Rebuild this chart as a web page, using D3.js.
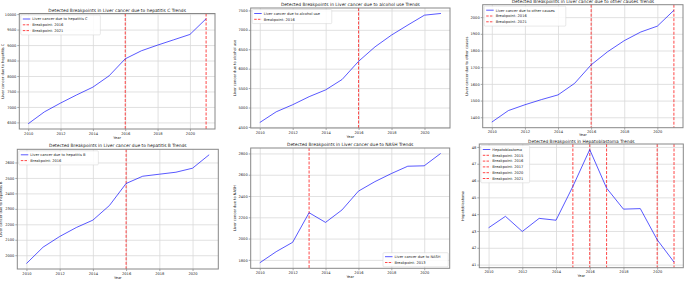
<!DOCTYPE html>
<html>
<head>
<meta charset="utf-8">
<script src="https://cdn.jsdelivr.net/npm/d3@7"></script>
<style>
  body { margin: 0; background: #fff; }
  text { font-family: "DejaVu Sans", sans-serif; fill: #222; }
</style>
</head>
<body>
<svg id="chart" width="685" height="281"></svg>
<script>
// Data
const years = [2010, 2011, 2012, 2013, 2014, 2015, 2016, 2017, 2018, 2019, 2020, 2021];
const yearTicks = [2010, 2012, 2014, 2016, 2018, 2020];

const hepCValues = [6457, 6840, 7125, 7390, 7640, 8005, 8555, 8815, 8998, 9170, 9343, 9850];
const alcoholValues = [4613, 4890, 5072, 5280, 5454, 5722, 6190, 6563, 6866, 7126, 7378, 7422];
const otherValues = [1371, 1440, 1475, 1506, 1534, 1603, 1714, 1793, 1859, 1911, 1946, 2041];
const hepBValues = [1946, 2052, 2121, 2179, 2227, 2322, 2464, 2511, 2524, 2537, 2563, 2650];
const nashValues = [1772, 1877, 1965, 2243, 2152, 2269, 2446, 2535, 2611, 2680, 2684, 2800];
const hepatoblastomaValues = [43.19, 43.87, 42.97, 43.75, 43.64, 45.65, 47.84, 45.55, 44.30, 44.33, 42.48, 41.15];

const hepCBreaks = [2016, 2021];
const alcoholBreaks = [2016];
const otherBreaks = [2016, 2021];
const hepBBreaks = [2016];
const nashBreaks = [2013];
const hepatoblastomaBreaks = [2015, 2016, 2017, 2020, 2021];

const hepCTicks = [6500, 7000, 7500, 8000, 8500, 9000, 9500, 10000];
const alcoholTicks = [4500, 5000, 5500, 6000, 6500, 7000, 7500];
const otherTicks = [1400, 1500, 1600, 1700, 1800, 1900, 2000];
const hepBTicks = [2000, 2100, 2200, 2300, 2400, 2500, 2600];
const nashTicks = [1800, 2000, 2200, 2400, 2600, 2800];
const hepatoblastomaTicks = [41, 42, 43, 44, 45, 46, 47, 48];

const panels = [
    { name: "Liver cancer due to hepatitis C", values: hepCValues, breaks: hepCBreaks, ticks: hepCTicks,
      box: [19.3, 13.5, 215, 129], legend: "tl", titleGap: 2, xlabGap: 9.5 },
    { name: "Liver cancer due to alcohol use", values: alcoholValues, breaks: alcoholBreaks, ticks: alcoholTicks,
      box: [250.7, 8, 450, 128], legend: "tl", titleGap: 2, xlabGap: 9.5 },
    { name: "Liver cancer due to other causes", values: otherValues, breaks: otherBreaks, ticks: otherTicks,
      box: [482.7, 4.7, 683, 127.7], legend: "tl", titleGap: 1.5, xlabGap: 8.3 },
    { name: "Liver cancer due to hepatitis B", values: hepBValues, breaks: hepBBreaks, ticks: hepBTicks,
      box: [17.3, 149.3, 218.3, 269], legend: "tl", titleGap: 2, xlabGap: 9.5 },
    { name: "Liver cancer due to NASH", values: nashValues, breaks: nashBreaks, ticks: nashTicks,
      box: [250.7, 148, 449.7, 268.3], legend: "br", titleGap: 2, xlabGap: 9.5 },
    { name: "Hepatoblastoma", values: hepatoblastomaValues, breaks: hepatoblastomaBreaks, ticks: hepatoblastomaTicks,
      box: [479.3, 144, 683.3, 267.7], legend: "tl", titleGap: 1.2, xlabGap: 9.5 }
];

const svg = d3.select("#chart");

panels.forEach(drawPanel);

function drawPanel(p)
{
    const [x0, y0, x1, y1] = p.box;
    const g = svg.append("g");

    // matplotlib style 5% margins
    const xPad = (d3.max(years) - d3.min(years)) * 0.05;
    const xScale = d3.scaleLinear()
        .domain([d3.min(years) - xPad, d3.max(years) + xPad])
        .range([x0, x1]);

    const yMin = d3.min(p.values), yMax = d3.max(p.values);
    const yPad = (yMax - yMin) * 0.05;
    const yScale = d3.scaleLinear()
        .domain([yMin - yPad, yMax + yPad])
        .range([y1, y0]);

    // grid
    g.append("g")
        .attr("transform", `translate(0, ${y1})`)
        .call(d3.axisBottom(xScale).tickValues(yearTicks).tickSize(-(y1 - y0)).tickFormat(d3.format("d")).tickPadding(3))
        .call(ax => ax.select(".domain").remove())
        .call(ax => ax.selectAll("line").attr("stroke", "#d9d9d9").attr("stroke-width", 0.8))
        .call(ax => ax.selectAll("text").attr("font-size", 3.6).attr("fill", "#333"));

    g.append("g")
        .attr("transform", `translate(${x0}, 0)`)
        .call(d3.axisLeft(yScale).tickValues(p.ticks).tickSize(-(x1 - x0)).tickFormat(d3.format("d")).tickPadding(3))
        .call(ax => ax.select(".domain").remove())
        .call(ax => ax.selectAll("line").attr("stroke", "#d9d9d9").attr("stroke-width", 0.8))
        .call(ax => ax.selectAll("text").attr("font-size", 3.6).attr("fill", "#333"));

    // small outer tick marks
    g.append("g")
        .attr("transform", `translate(0, ${y1})`)
        .call(d3.axisBottom(xScale).tickValues(yearTicks).tickSize(2).tickFormat(""))
        .call(ax => ax.select(".domain").remove())
        .call(ax => ax.selectAll("line").attr("stroke", "#555").attr("stroke-width", 0.5));
    g.append("g")
        .attr("transform", `translate(${x0}, 0)`)
        .call(d3.axisLeft(yScale).tickValues(p.ticks).tickSize(2).tickFormat(""))
        .call(ax => ax.select(".domain").remove())
        .call(ax => ax.selectAll("line").attr("stroke", "#555").attr("stroke-width", 0.5));

    // breakpoints
    g.selectAll(".bp")
        .data(p.breaks)
        .join("line")
        .attr("x1", d => xScale(d)).attr("x2", d => xScale(d))
        .attr("y1", y0).attr("y2", y1)
        .attr("stroke", "red")
        .attr("stroke-width", 0.9)
        .attr("stroke-dasharray", "3,1.5")
        .attr("opacity", 0.8);

    // series line
    g.append("path")
        .datum(p.values)
        .attr("fill", "none")
        .attr("stroke", "blue")
        .attr("stroke-opacity", 0.65)
        .attr("stroke-width", 1)
        .attr("d", d3.line().x((d, i) => xScale(years[i])).y(d => yScale(d)));

    // frame
    g.append("rect")
        .attr("x", x0).attr("y", y0)
        .attr("width", x1 - x0).attr("height", y1 - y0)
        .attr("fill", "none")
        .attr("stroke", "#888")
        .attr("stroke-width", 1);

    // labels
    g.append("text")
        .attr("x", (x0 + x1) / 2).attr("y", y0 - p.titleGap)
        .attr("text-anchor", "middle")
        .attr("font-size", 4.4)
        .text(`Detected Breakpoints in ${p.name} Trends`);

    g.append("text")
        .attr("x", (x0 + x1) / 2).attr("y", y1 + p.xlabGap)
        .attr("text-anchor", "middle")
        .attr("font-size", 3.6)
        .text("Year");

    g.append("text")
        .attr("transform", `translate(${x0 - 15}, ${(y0 + y1) / 2}) rotate(-90)`)
        .attr("text-anchor", "middle")
        .attr("font-size", 3.6)
        .text(p.name);

    // legend
    const entries = [{ label: p.name, type: "series" }]
        .concat(p.breaks.map(b => ({ label: `Breakpoint: ${b}`, type: "break" })));
    const rowH = 5.8;
    const legW = d3.max(entries, e => e.label.length) * 2.05 + 16;
    const legH = entries.length * rowH + 2.5;
    const lx = p.legend === "tl" ? x0 + 1.5 : x1 - 1.5 - legW;
    const ly = p.legend === "tl" ? y0 + 1.5 : y1 - 1.5 - legH;

    const leg = g.append("g").attr("transform", `translate(${lx}, ${ly})`);
    leg.append("rect")
        .attr("width", legW).attr("height", legH)
        .attr("rx", 1)
        .attr("fill", "white").attr("fill-opacity", 0.85)
        .attr("stroke", "#d0d0d0").attr("stroke-width", 0.5);

    const rows = leg.selectAll(".row")
        .data(entries)
        .join("g")
        .attr("transform", (d, i) => `translate(0, ${4 + i * rowH})`);

    rows.append("line")
        .attr("x1", 2).attr("x2", 9.5)
        .attr("stroke", d => d.type === "series" ? "blue" : "red")
        .attr("stroke-opacity", d => d.type === "series" ? 0.65 : 0.8)
        .attr("stroke-width", d => d.type === "series" ? 1 : 0.9)
        .attr("stroke-dasharray", d => d.type === "series" ? null : "2.5,1.2");

    rows.append("text")
        .attr("x", 11.5).attr("y", 1.3)
        .attr("font-size", 3.6)
        .text(d => d.label);
}
</script>
</body>
</html>
